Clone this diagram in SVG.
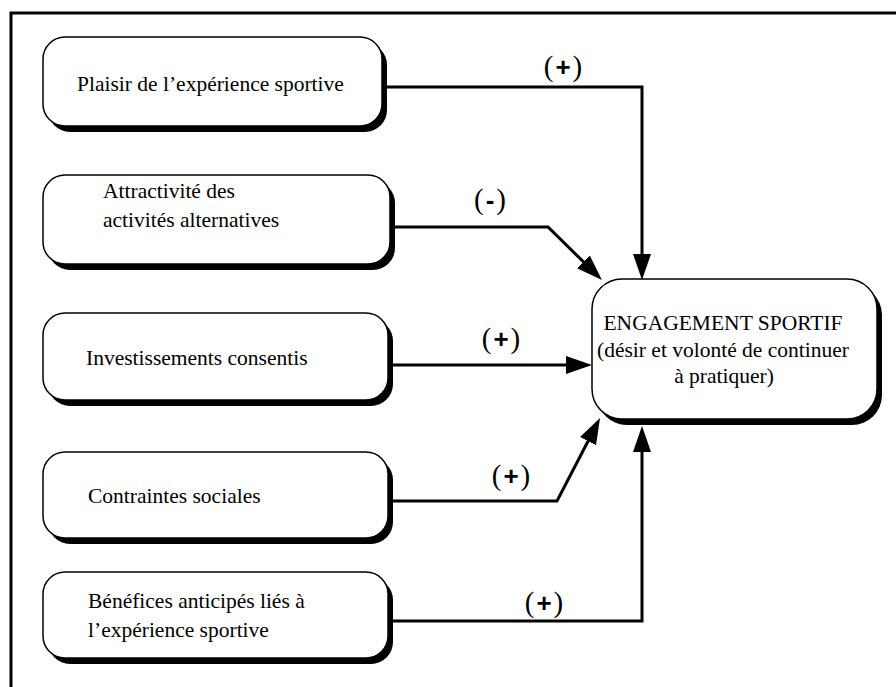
<svg xmlns="http://www.w3.org/2000/svg" width="896" height="687" viewBox="0 0 896 687">
<style>
.shadow{fill:#000;stroke:none}
.box{fill:#fff;stroke:#000;stroke-width:1.5}
.t{font-family:"Liberation Serif","Times New Roman",serif;font-size:21.5px;fill:#000}
.c{text-anchor:middle}
.lbl{font-family:"Liberation Serif","Times New Roman",serif;font-size:29px;fill:#000;text-anchor:middle;letter-spacing:2px}
.pm{font-family:"Liberation Sans",Arial,sans-serif;font-size:26px;font-weight:bold}
.conn{fill:none;stroke:#000;stroke-width:3;stroke-linejoin:miter}
</style>
<defs>
<marker id="arrow" markerUnits="userSpaceOnUse" markerWidth="26" markerHeight="18" refX="14" refY="9" orient="auto">
<path d="M0,0 L26,9 L0,18 Z" fill="#000"/>
</marker>
</defs>
<rect width="896" height="687" fill="#fff"/>
<path d="M11,687 V13 H896" fill="none" stroke="#000" stroke-width="3"/>

<g id="node-plaisir">
<rect class="shadow" x="48" y="43" width="339" height="89" rx="22"/>
<rect class="box" x="43" y="37" width="339" height="89" rx="22"/>
<text class="t" x="77" y="91">Plaisir de l’expérience sportive</text>
</g>
<g id="node-attractivite">
<rect class="shadow" x="48" y="181" width="347" height="89" rx="22"/>
<rect class="box" x="43" y="175" width="347" height="89" rx="22"/>
<text class="t" x="103" y="198">Attractivité des</text>
<text class="t" x="103" y="227">activités alternatives</text>
</g>
<g id="node-investissements">
<rect class="shadow" x="48" y="319" width="345" height="87" rx="22"/>
<rect class="box" x="43" y="313" width="345" height="87" rx="22"/>
<text class="t" x="86" y="365">Investissements consentis</text>
</g>
<g id="node-contraintes">
<rect class="shadow" x="48" y="458" width="345" height="86" rx="22"/>
<rect class="box" x="43" y="452" width="345" height="86" rx="22"/>
<text class="t" x="88" y="503">Contraintes sociales</text>
</g>
<g id="node-benefices">
<rect class="shadow" x="48" y="578" width="345" height="86" rx="22"/>
<rect class="box" x="43" y="572" width="345" height="86" rx="22"/>
<text class="t" x="88" y="608">Bénéfices anticipés liés à</text>
<text class="t" x="88" y="637">l’expérience sportive</text>
</g>
<g id="node-engagement">
<rect class="shadow" x="597" y="285" width="285" height="140" rx="30"/>
<rect class="box" x="592" y="279" width="285" height="140" rx="30"/>
<text class="t c" x="723" y="330">ENGAGEMENT SPORTIF</text>
<text class="t c" x="723" y="357">(désir et volonté de continuer</text>
<text class="t c" x="724" y="383">à pratiquer)</text>
</g>

<g id="connectors">
<path class="conn" d="M382,87 H642 V268" marker-end="url(#arrow)"/>
<path class="conn" d="M390,227 H548 L593.4,271.6" marker-end="url(#arrow)"/>
<path class="conn" d="M388,365 H580" marker-end="url(#arrow)"/>
<path class="conn" d="M388,501 H557 L594.5,428.7" marker-end="url(#arrow)"/>
<path class="conn" d="M388,621 H642 V438" marker-end="url(#arrow)"/>
<text class="lbl" x="564" y="76">(<tspan class="pm">+</tspan>)</text>
<text class="lbl" x="491" y="209">(<tspan class="pm">-</tspan>)</text>
<text class="lbl" x="502" y="348">(<tspan class="pm">+</tspan>)</text>
<text class="lbl" x="512" y="485">(<tspan class="pm">+</tspan>)</text>
<text class="lbl" x="545" y="612">(<tspan class="pm">+</tspan>)</text>
</g>
</svg>
